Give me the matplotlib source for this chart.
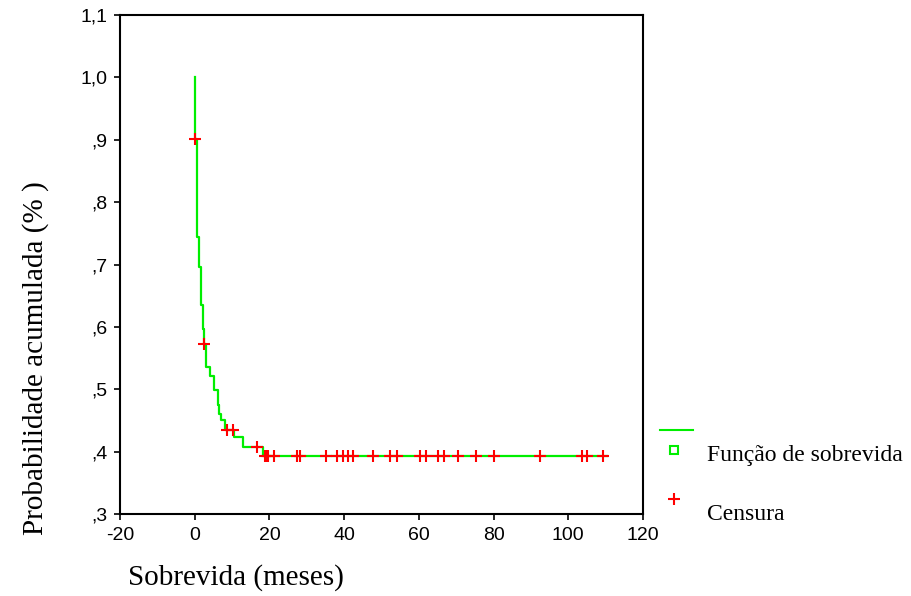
import numpy as np
import matplotlib.pyplot as plt
from matplotlib.lines import Line2D

# Kaplan-Meier step curve
step_t = [0, 0.1, 0.7, 1.2, 1.8, 2.2, 2.4, 3.0, 4.1, 5.2, 6.2, 6.6, 7.1, 8.1, 10.5, 13.0, 18.4, 110.3]
step_s = [1.0, 0.902, 0.744, 0.696, 0.635, 0.597, 0.573, 0.536, 0.522, 0.498, 0.474, 0.461, 0.450, 0.434,
          0.424, 0.408, 0.393, 0.393]

# censored observations
cens_t = [0.1, 2.5, 8.6, 10.3, 16.8, 18.8, 19.3, 19.7, 21.2, 27.3, 28.2, 35.2, 38.2, 39.6, 41.0, 42.5,
          47.8, 52.3, 54.1, 60.3, 61.8, 65.2, 66.6, 70.6, 75.3, 80.2, 92.5, 103.6, 105.1, 109.2]

xticks = [-20, 0, 20, 40, 60, 80, 100, 120]
yticks = [0.3, 0.4, 0.5, 0.6, 0.7, 0.8, 0.9, 1.0, 1.1]
ytick_labels = [',3', ',4', ',5', ',6', ',7', ',8', ',9', '1,0', '1,1']

green = '#00ee00'
serif = 'Liberation Serif'
sans = 'Liberation Sans'

fig = plt.figure(figsize=(9.11, 5.96), dpi=100)
ax = fig.add_axes([120 / 911, 1 - 514 / 596, 523 / 911, 499 / 596])

ax.plot(step_t, step_s, drawstyle='steps-post', color=green, lw=1.6)

# censored points sit on the curve
idx = np.searchsorted(step_t, cens_t, side='right') - 1
cens_s = np.array(step_s)[idx]
ax.plot(cens_t, cens_s, ls='none', marker='+', ms=8, mew=1.5, color='#ff0000')

ax.set_xlim(-20, 120)
ax.set_ylim(0.3, 1.1)
ax.set_xticks(xticks)
ax.set_xticklabels([str(v) for v in xticks], family=sans, fontsize=14)
ax.set_yticks(yticks)
ax.set_yticklabels(ytick_labels, family=sans, fontsize=14)
ax.tick_params(direction='out', length=4, width=1.2)
ax.tick_params(axis='x', pad=5)
ax.tick_params(axis='y', pad=5)
for s in ax.spines.values():
    s.set_linewidth(1.5)

fig.text(128 / 911, 1 - 578 / 596, 'Sobrevida (meses)', family=serif, fontsize=21,
         ha='left', va='center')
fig.text(36 / 911, 1 - 358 / 596, 'Probabilidade acumulada (% )', family=serif, fontsize=21,
         rotation=90, ha='center', va='center')

# legend drawn in figure space like the original
fig.add_artist(Line2D([660 / 911, 693 / 911], [1 - 430 / 596] * 2, color=green, lw=1.5))
fig.add_artist(Line2D([674 / 911], [1 - 450 / 596], marker='s', ms=6, mfc='none', mec=green, mew=1.5))
fig.add_artist(Line2D([674 / 911], [1 - 499 / 596], marker='+', ms=8, mew=1.5, color='#ff0000'))
fig.text(707 / 911, 1 - 455 / 596, 'Função de sobrevida', family=serif, fontsize=17,
         ha='left', va='center')
fig.text(707 / 911, 1 - 515 / 596, 'Censura', family=serif, fontsize=17,
         ha='left', va='center')

fig.savefig('out.png', dpi=100)
